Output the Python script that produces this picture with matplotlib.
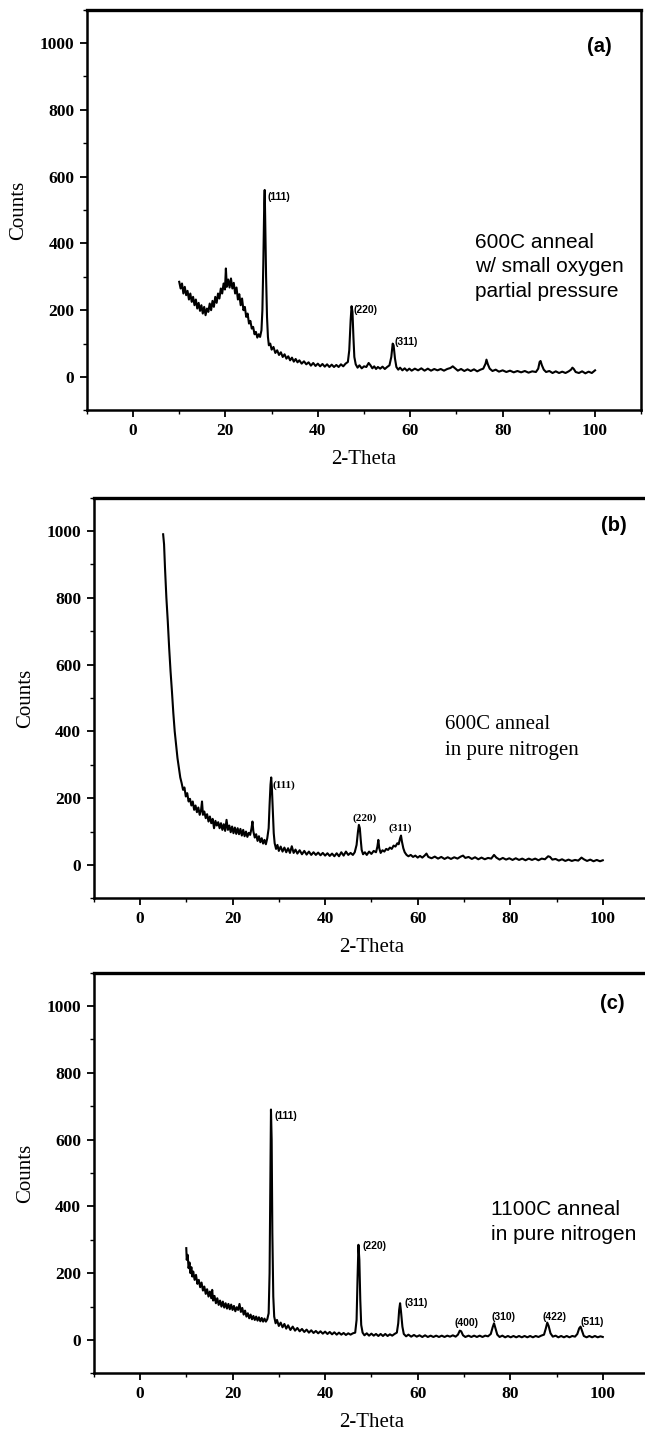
import matplotlib
matplotlib.use("Agg")
import matplotlib.pyplot as plt
from matplotlib.ticker import MultipleLocator

# ---- panel (a): 600C anneal, small O2 partial pressure ----
a_theta = [10.0, 10.3, 10.6, 10.9, 11.2, 11.5, 11.8, 12.1, 12.4, 12.7, 13.0, 13.3, 13.6, 13.9,
           14.2, 14.5, 14.8, 15.1, 15.4, 15.7, 16.0, 16.3, 16.6, 16.9, 17.2, 17.5, 17.8, 18.1,
           18.4, 18.7, 19.0, 19.3, 19.6, 19.9, 20.1, 20.3, 20.6, 20.9, 21.2, 21.5, 21.8, 22.1,
           22.4, 22.7, 23.0, 23.3, 23.6, 23.9, 24.2, 24.5, 24.8, 25.1, 25.4, 25.7, 26.0, 26.3,
           26.6, 26.9, 27.2, 27.5, 27.8, 28.0, 28.2, 28.4, 28.5, 28.6, 28.8, 29.0, 29.2, 29.4,
           29.7, 30.0, 30.4, 30.8, 31.2, 31.6, 32.0, 32.4, 32.8, 33.2, 33.6, 34.0, 34.4, 34.8,
           35.2, 35.6, 36.0, 36.5, 37.0, 37.5, 38.0, 38.5, 39.0, 39.5, 40.0, 40.5, 41.0, 41.5,
           42.0, 42.5, 43.0, 43.5, 44.0, 44.5, 45.0, 45.5, 46.0, 46.5, 46.8, 47.1, 47.3, 47.5,
           47.7, 47.9, 48.2, 48.6, 49.0, 49.5, 50.0, 50.5, 51.0, 51.4, 51.8, 52.2, 52.6, 53.0,
           53.5, 54.0, 54.5, 55.0, 55.5, 55.9, 56.2, 56.4, 56.7, 57.0, 57.4, 57.8, 58.3, 58.8,
           59.3, 59.8, 60.3, 61.0, 61.7, 62.4, 63.1, 63.8, 64.5, 65.2, 65.9, 66.6, 67.3, 68.0,
           68.7, 69.2, 69.7, 70.3, 71.0, 71.7, 72.4, 73.1, 73.8, 74.5, 75.2, 75.8, 76.3, 76.5,
           76.8, 77.2, 77.8, 78.5, 79.2, 80.0, 80.8, 81.6, 82.4, 83.2, 84.0, 84.8, 85.6, 86.4,
           87.2, 87.7, 88.0, 88.2, 88.5, 88.9, 89.4, 90.1, 90.8, 91.5, 92.2, 92.9, 93.6, 94.3,
           94.8, 95.1, 95.4, 95.8, 96.5, 97.2, 97.9, 98.6, 99.3, 100.0]
a_counts = [285, 265, 280, 250, 270, 245, 258, 232, 250, 225, 240, 215, 232, 205,
            222, 198, 215, 190, 210, 185, 205, 195, 220, 200, 228, 210, 240, 222,
            250, 235, 265, 250, 280, 262, 325, 270, 292, 268, 295, 265, 282, 250,
            268, 232, 248, 215, 235, 200, 210, 180, 190, 160, 168, 145, 150, 128,
            135, 118, 128, 120, 140, 200, 340, 520, 560, 480, 300, 180, 120, 95,
            100, 82, 90, 72, 80, 66, 74, 60, 68, 55, 62, 50, 58, 46,
            54, 44, 50, 40, 47, 38, 44, 34, 42, 33, 40, 32, 39, 31,
            38, 30, 37, 30, 36, 30, 38, 32, 40, 45, 80, 170, 212, 195,
            120, 60, 38, 28, 35, 26, 32, 30, 42, 35, 26, 32, 24, 30,
            25, 31, 24, 30, 35, 60, 100, 95, 55, 30, 22, 28, 20, 26,
            19, 25, 19, 25, 20, 26, 19, 25, 19, 24, 20, 24, 19, 24,
            27, 32, 26, 19, 24, 18, 23, 18, 23, 17, 22, 25, 40, 52,
            38, 25, 18, 22, 16, 20, 15, 19, 14, 18, 14, 18, 13, 17,
            15, 25, 45, 48, 35, 22, 15, 18, 12, 17, 12, 16, 12, 17,
            22, 28, 24, 15, 12, 17, 11, 16, 12, 20]

# ---- panel (b): 600C anneal in pure nitrogen ----
b_theta = [5.0, 5.2, 5.4, 5.7, 6.0, 6.3, 6.6, 6.9, 7.2, 7.5, 7.8, 8.1, 8.4, 8.7, 9.0, 9.3, 9.6,
           9.9, 10.2, 10.5, 10.8, 11.1, 11.4, 11.7, 12.0, 12.3, 12.6, 12.9, 13.2, 13.4, 13.6,
           13.9, 14.2, 14.5, 14.8, 15.1, 15.4, 15.7, 16.0, 16.3, 16.6, 16.9, 17.2, 17.5, 17.8,
           18.1, 18.4, 18.7, 19.0, 19.3, 19.6, 19.9, 20.2, 20.5, 20.8, 21.1, 21.4, 21.7, 22.0,
           22.3, 22.6, 22.9, 23.2, 23.5, 23.8, 24.1, 24.3, 24.5, 24.8, 25.1, 25.4, 25.7, 26.0,
           26.3, 26.6, 26.9, 27.2, 27.5, 27.8, 28.0, 28.2, 28.35, 28.5, 28.7, 28.9, 29.1, 29.4,
           29.7, 30.0, 30.4, 30.8, 31.2, 31.6, 32.0, 32.4, 32.8, 33.2, 33.6, 34.0, 34.5, 35.0,
           35.5, 36.0, 36.5, 37.0, 37.5, 38.0, 38.5, 39.0, 39.5, 40.0, 40.5, 41.0, 41.5, 42.0,
           42.5, 43.0, 43.5, 44.0, 44.5, 45.0, 45.5, 46.0, 46.4, 46.8, 47.1, 47.3, 47.5, 47.7,
           47.9, 48.2, 48.6, 49.0, 49.5, 50.0, 50.5, 51.0, 51.3, 51.5, 51.7, 52.0, 52.4, 52.8,
           53.2, 53.6, 54.0, 54.4, 54.8, 55.2, 55.6, 55.9, 56.2, 56.4, 56.6, 56.9, 57.2, 57.6,
           58.0, 58.5, 59.0, 59.5, 60.0, 60.5, 61.0, 61.5, 61.9, 62.3, 63.0, 63.7, 64.4, 65.1,
           65.8, 66.5, 67.2, 67.9, 68.6, 69.3, 69.8, 70.3, 71.0, 71.7, 72.4, 73.1, 73.8, 74.5,
           75.2, 75.9, 76.5, 77.0, 77.7, 78.4, 79.1, 79.8, 80.5, 81.2, 81.9, 82.6, 83.3, 84.0,
           84.7, 85.4, 86.1, 86.8, 87.5, 88.2, 88.6, 89.1, 89.8, 90.5, 91.2, 91.9, 92.6, 93.3,
           94.0, 94.7, 95.4, 95.9, 96.6, 97.3, 98.0, 98.7, 99.4, 100.0]
b_counts = [990, 960, 890, 800, 730, 650, 580, 520, 455, 400, 360, 320, 290, 262, 245, 225, 232,
            205, 215, 190, 198, 178, 190, 165, 178, 158, 172, 150, 165, 190, 150,
            160, 140, 152, 130, 145, 125, 138, 110, 132, 118, 128, 110, 125, 105,
            122, 102, 135, 105, 118, 98, 115, 95, 112, 93, 110, 92, 108, 88,
            105, 86, 100, 84, 96, 90, 110, 130, 100, 82, 92, 72, 86, 68,
            80, 64, 75, 62, 80, 110, 180, 240, 262, 230, 160, 95, 65, 48,
            60, 42, 55, 40, 52, 38, 50, 36, 56, 36, 46, 34, 44, 32,
            42, 31, 40, 30, 38, 30, 37, 29, 36, 28, 35, 27, 34, 26,
            35, 26, 38, 28, 40, 30, 36, 30, 38, 60, 100, 120, 110, 75,
            45, 32, 38, 30, 40, 33, 42, 38, 55, 75, 50, 36, 44, 40,
            48, 45, 52, 48, 58, 55, 65, 62, 80, 88, 70, 50, 38, 30,
            26, 30, 24, 28, 22, 27, 22, 28, 34, 24, 20, 25, 19, 24,
            18, 23, 18, 23, 19, 25, 28, 21, 24, 18, 23, 17, 22, 17,
            21, 19, 30, 22, 16, 21, 16, 20, 15, 20, 15, 19, 14, 19,
            15, 19, 14, 19, 17, 26, 24, 16, 18, 13, 17, 12, 16, 12,
            15, 13, 22, 17, 12, 16, 11, 15, 11, 14]

# ---- panel (c): 1100C anneal in pure nitrogen ----
c_theta = [10.0, 10.1, 10.3, 10.5, 10.7, 10.9, 11.1, 11.3, 11.5, 11.8, 12.1, 12.4, 12.7, 13.0,
           13.3, 13.6, 13.9, 14.2, 14.5, 14.8, 15.1, 15.4, 15.6, 15.8, 16.1, 16.4, 16.7, 17.0,
           17.3, 17.6, 17.9, 18.2, 18.5, 18.8, 19.1, 19.4, 19.7, 20.0, 20.3, 20.6, 20.9, 21.2,
           21.5, 21.8, 22.1, 22.4, 22.7, 23.0, 23.3, 23.6, 23.9, 24.2, 24.5, 24.8, 25.1, 25.4,
           25.7, 26.0, 26.3, 26.6, 26.9, 27.2, 27.5, 27.8, 28.0, 28.15, 28.3, 28.45, 28.6, 28.8,
           29.0, 29.3, 29.6, 30.0, 30.4, 30.8, 31.2, 31.6, 32.0, 32.5, 33.0, 33.5, 34.0, 34.5,
           35.0, 35.5, 36.0, 36.5, 37.0, 37.5, 38.0, 38.5, 39.0, 39.5, 40.0, 40.5, 41.0, 41.5,
           42.0, 42.5, 43.0, 43.5, 44.0, 44.5, 45.0, 45.5, 46.0, 46.5, 46.8, 47.0, 47.2, 47.4,
           47.6, 47.8, 48.1, 48.5, 49.0, 49.5, 50.0, 50.5, 51.0, 51.5, 52.0, 52.5, 53.0, 53.5,
           54.0, 54.5, 55.0, 55.5, 55.8, 56.0, 56.2, 56.4, 56.7, 57.0, 57.5, 58.0, 58.6, 59.2,
           59.8, 60.4, 61.0, 61.6, 62.2, 62.8, 63.4, 64.0, 64.6, 65.2, 65.8, 66.4, 67.0, 67.6,
           68.2, 68.7, 69.1, 69.4, 69.8, 70.3, 71.0, 71.6, 72.2, 72.8, 73.4, 74.0, 74.6, 75.2,
           75.8, 76.2, 76.5, 76.8, 77.2, 77.7, 78.3, 78.9, 79.5, 80.1, 80.7, 81.3, 81.9, 82.5,
           83.1, 83.7, 84.3, 84.9, 85.5, 86.1, 86.7, 87.3, 87.7, 88.0, 88.3, 88.7, 89.2, 89.8,
           90.4, 91.0, 91.6, 92.2, 92.8, 93.4, 94.0, 94.5, 94.9, 95.2, 95.5, 95.9, 96.5, 97.1,
           97.7, 98.3, 98.9, 99.5, 100.0]
c_counts = [275, 240, 255, 215, 232, 200, 218, 190, 205, 180, 195, 168, 180, 158,
            172, 148, 160, 138, 152, 130, 145, 125, 150, 118, 132, 110, 125, 105,
            118, 100, 115, 97, 110, 94, 108, 92, 106, 90, 102, 86, 98, 90,
            108, 84, 96, 76, 88, 70, 80, 65, 76, 62, 72, 60, 70, 58,
            68, 56, 66, 55, 64, 55, 62, 80, 200, 450, 690, 600, 320, 130,
            70, 50, 60, 42, 52, 38, 48, 34, 44, 30, 40, 28, 36, 26,
            33, 24, 31, 22, 29, 21, 27, 20, 26, 19, 25, 18, 24, 17,
            23, 16, 22, 16, 21, 15, 20, 16, 20, 22, 60, 180, 285, 240,
            120, 45, 22, 14, 20, 13, 19, 13, 18, 12, 18, 12, 18, 12,
            17, 13, 18, 22, 50, 90, 110, 85, 40, 18, 11, 16, 10, 15,
            10, 14, 9, 14, 9, 13, 9, 13, 9, 13, 9, 13, 10, 14,
            10, 16, 28, 26, 14, 9, 13, 9, 13, 9, 13, 9, 13, 11,
            18, 38, 50, 35, 16, 9, 13, 8, 12, 8, 12, 8, 12, 8,
            12, 8, 12, 8, 12, 9, 13, 16, 35, 52, 42, 20, 10, 13,
            8, 12, 8, 12, 8, 12, 10, 18, 35, 40, 28, 12, 8, 12,
            8, 12, 8, 11, 9]

# peak index labels (text, 2-theta, counts)
a_peak_text = ["(111)", "(220)", "(311)"]
a_peak_x = [29.2, 47.8, 56.5]
a_peak_y = [540, 200, 104]

b_peak_text = ["(111)", "(220)", "(311)"]
b_peak_x = [28.7, 48.5, 56.3]
b_peak_y = [240, 140, 110]

c_peak_text = ["(111)", "(220)", "(311)", "(400)", "(310)", "(422)", "(511)"]
c_peak_x = [29.1, 48.0, 57.2, 70.5, 78.5, 89.6, 97.8]
c_peak_y = [670, 281, 111, 51, 70, 70, 55]

SERIF = "Liberation Serif"
SANS = "Liberation Sans"

fig = plt.figure(figsize=(6.45, 14.33), dpi=100)
ax_a = fig.add_axes([0.1346, 0.7136, 0.8596, 0.2797])
ax_b = fig.add_axes([0.1453, 0.3731, 0.8610, 0.2797])
ax_c = fig.add_axes([0.1453, 0.0416, 0.8610, 0.2797])


def style(ax):
    ax.set_xlim(-10, 110)
    ax.set_ylim(-100, 1100)
    ax.set_xticks([0, 20, 40, 60, 80, 100])
    ax.set_yticks([0, 200, 400, 600, 800, 1000])
    ax.xaxis.set_minor_locator(MultipleLocator(10))
    ax.yaxis.set_minor_locator(MultipleLocator(100))
    ax.tick_params(which="major", direction="out", length=5, width=1.3, pad=4,
                   labelsize=12.5, top=False, right=False)
    ax.tick_params(which="minor", direction="out", length=3, width=1.0,
                   top=False, right=False)
    for lab in ax.get_xticklabels() + ax.get_yticklabels():
        lab.set_fontfamily(SERIF)
        lab.set_fontweight("bold")
    for s in ax.spines.values():
        s.set_linewidth(1.8)
    ax.spines["top"].set_linewidth(2.4)
    ax.set_xlabel("2-Theta", fontsize=15, family=SERIF, labelpad=8)
    ax.set_ylabel("Counts", fontsize=15, family=SERIF, labelpad=8)


for ax in (ax_a, ax_b, ax_c):
    style(ax)

ax_a.plot(a_theta, a_counts, color="black", lw=1.5)
ax_b.plot(b_theta, b_counts, color="black", lw=1.5)
ax_c.plot(c_theta, c_counts, color="black", lw=1.5)

for t, x, y in zip(a_peak_text, a_peak_x, a_peak_y):
    ax_a.text(x, y, t, fontsize=7.5, family=SANS, fontweight="bold", ha="left", va="center")
for t, x, y in zip(b_peak_text, b_peak_x, b_peak_y):
    ha = "left" if t == "(111)" else "center"
    ax_b.text(x, y, t, fontsize=8, family=SERIF, fontweight="bold", ha=ha, va="center")
for t, x, y in zip(c_peak_text, c_peak_x, c_peak_y):
    ha = "left" if t in ("(111)", "(220)", "(311)") else "center"
    ax_c.text(x, y, t, fontsize=7.5, family=SANS, fontweight="bold", ha=ha, va="center")

# panel letters
ax_a.text(101, 990, "(a)", fontsize=14.5, family=SANS, fontweight="bold", ha="center", va="center")
ax_b.text(102.4, 1015, "(b)", fontsize=14.5, family=SANS, fontweight="bold", ha="center", va="center")
ax_c.text(102, 1008, "(c)", fontsize=14.5, family=SANS, fontweight="bold", ha="center", va="center")

# condition notes
ax_a.text(74, 330, "600C anneal\nw/ small oxygen\npartial pressure", fontsize=15,
          family=SANS, ha="left", va="center", linespacing=1.35)
ax_b.text(66, 382, "600C anneal\nin pure nitrogen", fontsize=15,
          family=SERIF, ha="left", va="center", linespacing=1.45)
ax_c.text(75.9, 352, "1100C anneal\nin pure nitrogen", fontsize=15,
          family=SANS, ha="left", va="center", linespacing=1.4)

fig.savefig("out.png", dpi=100, facecolor="white")
